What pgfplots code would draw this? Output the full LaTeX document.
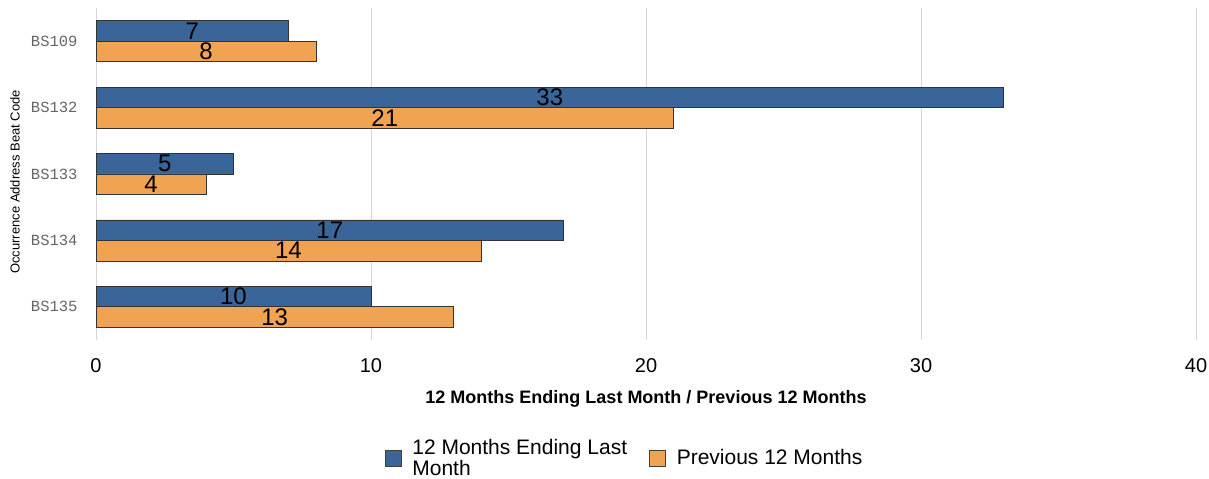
\documentclass[border=0pt]{standalone}
\usepackage{fontspec}
\setmainfont{Liberation Sans}
\setmonofont{Liberation Mono}
\usepackage{pgfplots}
\pgfplotsset{compat=1.18}
\definecolor{cblue}{HTML}{3A6598}
\definecolor{corange}{HTML}{F0A352}
\definecolor{gridc}{HTML}{D5D5E0}
\begin{document}
\begin{tikzpicture}
\begin{axis}[
  name=ax,
  /pgf/number format/assume math mode=true,
  scale only axis, width=1100pt, height=332pt,
  xmin=0, xmax=40, ymin=-0.5, ymax=4.5,
  xbar, bar width=0.31,
  ytick={0,1,2,3,4},
  yticklabels={BS135,BS134,BS133,BS132,BS109},
  xtick={0,10,20,30,40},
  xmajorgrids, grid style={gridc, line width=0.8pt},
  axis line style={draw=none}, major tick length=0pt,
  xticklabel style={font=\fontsize{20}{20}\selectfont, anchor=north, yshift=-15pt},
  yticklabel style={font=\ttfamily\fontsize{15.5}{15.5}\selectfont, text=black!60, anchor=east, xshift=-15pt},
  xlabel={\textbf{12 Months Ending Last Month / Previous 12 Months}},
  xlabel style={font=\fontsize{18}{18}\selectfont, at={(axis description cs:0.5,0)}, anchor=center, yshift=-59pt},
  ylabel={Occurrence Address Beat Code},
  ylabel style={font=\fontsize{13}{13}\selectfont, at={(axis description cs:0,0.476)}, anchor=center, yshift=81pt},
  legend style={at={(axis description cs:0.4805,-0.3554)}, anchor=center, draw=none,
    font=\fontsize{21}{21}\selectfont, legend columns=2,
    /tikz/every odd column/.append style={column sep=9pt},
    /tikz/every even column/.append style={column sep=20pt},
    cells={align=left}},
  legend image code/.code={\draw[#1, draw=black!75, line width=0.6pt] (0pt,-8pt) rectangle (16pt,8pt);},
  nodes near coords, point meta=x,
  visualization depends on={rawx \as \rawx},
  nodes near coords style={anchor=center, text=black, font=\fontsize{24}{24}\selectfont,
    shift={(axis direction cs:-\rawx/2,0)}},
]
\addplot[fill=cblue, draw=black!80, line width=0.6pt, bar shift=0.155]
  coordinates {(7,4) (33,3) (5,2) (17,1) (10,0)};
\addlegendentry{12 Months Ending Last\\Month}
\addplot[fill=corange, draw=black!80, line width=0.6pt, bar shift=-0.155]
  coordinates {(8,4) (21,3) (4,2) (14,1) (13,0)};
\addlegendentry{Previous 12 Months}
\end{axis}
\pgfresetboundingbox
\path[use as bounding box] ([shift={(-96pt,-139pt)}]ax.south west) rectangle ([shift={(13pt,8pt)}]ax.north east);
\end{tikzpicture}
\end{document}
